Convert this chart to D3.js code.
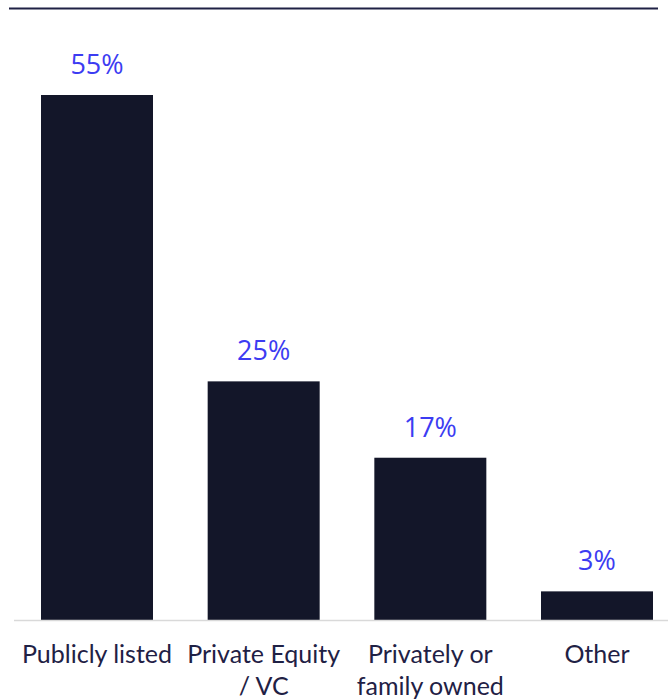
<!DOCTYPE html>
<html>
<head>
<meta charset="utf-8">
<script src="https://cdn.jsdelivr.net/npm/d3@7"></script>
<style>
  html, body { margin: 0; padding: 0; background: #ffffff; }
  svg { display: block; }
</style>
</head>
<body>
<svg id="chart" width="668" height="700"></svg>
<script>
// Ownership structure shares (%)
const categories = ["Publicly listed", "Private Equity / VC", "Privately or family owned", "Other"];
const labelLines = [["Publicly listed"], ["Private Equity", "/ VC"], ["Privately or", "family owned"], ["Other"]];
const values = [55, 25, 17, 3];

const svg = d3.select("#chart");
const baseY = 620;
const topY = 95;

const x = d3.scaleBand()
  .domain(categories)
  .range([41, 653])
  .paddingInner(0.328)
  .paddingOuter(0);

const y = d3.scaleLinear()
  .domain([0, 55])
  .range([baseY, topY]);

// rule at the top of the panel
svg.append("line")
  .attr("x1", 9).attr("x2", 658)
  .attr("y1", 8.5).attr("y2", 8.5)
  .attr("stroke", "#1f2145")
  .attr("stroke-width", 2);

// bars
svg.append("g").selectAll("rect")
  .data(values)
  .join("rect")
  .attr("x", (d, i) => x(categories[i]))
  .attr("width", x.bandwidth())
  .attr("y", d => y(d))
  .attr("height", d => baseY - y(d))
  .attr("fill", "#131629");

// baseline
svg.append("line")
  .attr("x1", 14).attr("x2", 668)
  .attr("y1", baseY + 0.5).attr("y2", baseY + 0.5)
  .attr("stroke", "#d9d9d9")
  .attr("stroke-width", 1.5);

// value labels
svg.append("g").selectAll("text")
  .data(values)
  .join("text")
  .attr("x", (d, i) => x(categories[i]) + x.bandwidth() / 2)
  .attr("y", d => y(d) - 21)
  .attr("text-anchor", "middle")
  .attr("font-family", "'Open Sans', sans-serif")
  .attr("font-size", 27)
  .attr("fill", "#3c3cf2")
  .text(d => d + "%");

// category labels
const cat = svg.append("g").selectAll("text")
  .data(categories)
  .join("text")
  .attr("x", d => x(d) + x.bandwidth() / 2)
  .attr("y", 663)
  .attr("text-anchor", "middle")
  .attr("font-family", "Lato, sans-serif")
  .attr("font-size", 25)
  .attr("fill", "#1f2145");

cat.selectAll("tspan")
  .data((d, i) => labelLines[i])
  .join("tspan")
  .attr("x", function () { return d3.select(this.parentNode).attr("x"); })
  .attr("dy", (d, i) => i === 0 ? 0 : 32)
  .text(d => d);
</script>
</body>
</html>
